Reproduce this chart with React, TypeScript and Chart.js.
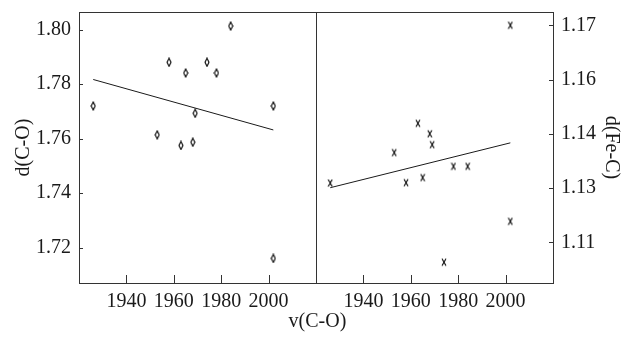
import { useEffect, useRef } from 'react';
import { Chart, registerables } from 'chart.js';

Chart.register(...registerables);

// ---- data ----
const vCO = [1926, 1953, 1958, 1963, 1965, 1968, 1969, 1974, 1978, 1984, 2002, 2002];
const dCO = [1.772, 1.7614, 1.788, 1.7575, 1.7841, 1.7587, 1.7693, 1.788, 1.7841, 1.8013, 1.772, 1.7161];
const dFeC = [1.1264, 1.1348, 1.1265, 1.1429, 1.1279, 1.14, 1.137, 1.1045, 1.131, 1.131, 1.1158, 1.17];

const fitX = [1926, 2002];
const fitCO = [1.7817, 1.7632];
const fitFeC = [1.1251, 1.1375];

const xTicks = [1940, 1960, 1980, 2000];
const yLeftTicks = [1.72, 1.74, 1.76, 1.78, 1.8];
const yRightTicks = [1.11, 1.125, 1.14, 1.155, 1.17];
const yRightLabels = ['1.11', '1.13', '1.14', '1.16', '1.17'];

const FONT = "'Liberation Serif', 'Times New Roman', serif";
const INK = '#1a1a1a';
const AXIS = '#333';

function makeMarker(kind: 'diamond' | 'x') {
  const c = document.createElement('canvas');
  c.width = 6;
  c.height = 10;
  const g = c.getContext('2d')!;
  g.strokeStyle = '#000';
  g.lineWidth = 1.1;
  g.beginPath();
  if (kind === 'diamond') {
    g.moveTo(3, 1);
    g.lineTo(5, 5);
    g.lineTo(3, 9);
    g.lineTo(1, 5);
    g.closePath();
  } else {
    g.moveTo(1, 1.5);
    g.lineTo(5, 8.5);
    g.moveTo(5, 1.5);
    g.lineTo(1, 8.5);
  }
  g.stroke();
  return c;
}

const panelFrame = {
  id: 'panelFrame',
  afterDraw(chart: any) {
    const { ctx, chartArea, scales } = chart;
    const { left, right, top, bottom } = chartArea;
    ctx.save();
    ctx.strokeStyle = AXIS;
    ctx.lineWidth = 1;
    ctx.beginPath();
    const ty = Math.round(top) + 0.5;
    ctx.moveTo(left, ty);
    ctx.lineTo(right, ty);
    const dx = Math.round(scales.x1.right) + 0.5;
    ctx.moveTo(dx, top);
    ctx.lineTo(dx, bottom);
    for (const id of ['x1', 'x2']) {
      const s = scales[id];
      s.ticks.forEach((t: any) => {
        const p = Math.round(s.getPixelForValue(t.value)) + 0.5;
        ctx.moveTo(p, bottom);
        ctx.lineTo(p, bottom - 8);
      });
    }
    scales.y1.ticks.forEach((t: any) => {
      const p = Math.round(scales.y1.getPixelForValue(t.value)) + 0.5;
      ctx.moveTo(left, p);
      ctx.lineTo(left + 4, p);
    });
    scales.y2.ticks.forEach((t: any) => {
      const p = Math.round(scales.y2.getPixelForValue(t.value)) + 0.5;
      ctx.moveTo(right, p);
      ctx.lineTo(right - 4, p);
    });
    ctx.stroke();
    ctx.restore();
  },
};

export default function App() {
  const ref = useRef<HTMLCanvasElement | null>(null);

  useEffect(() => {
    if (!ref.current) return;
    const diamond = makeMarker('diamond');
    const cross = makeMarker('x');
    const tickFont = { family: FONT, size: 20, weight: 'normal' };
    const titleFont = { family: FONT, size: 20, lineHeight: 1.2, weight: 'normal' };
    const gridOpts = { display: true, drawOnChartArea: false, drawTicks: false };
    const borderOpts = { display: true, color: AXIS, width: 1 };
    const noPad = (s: any) => {
      s.paddingTop = 0;
      s.paddingBottom = 0;
      s.paddingLeft = 0;
      s.paddingRight = 0;
    };

    const xScale = (stackWeight: number) => ({
      type: 'linear',
      position: 'bottom',
      stack: 'v',
      stackWeight,
      min: 1920,
      max: 2020,
      afterBuildTicks: (s: any) => {
        s.ticks = xTicks.map((value) => ({ value }));
      },
      afterFit: (s: any) => {
        s.height = 27;
        noPad(s);
      },
      grid: gridOpts,
      border: borderOpts,
      ticks: {
        padding: 7,
        font: tickFont,
        color: INK,
        maxRotation: 0,
        autoSkip: false,
        callback: (v: any) => String(v),
      },
    });

    const chart = new Chart(ref.current, {
      type: 'scatter',
      data: {
        datasets: [
          {
            label: 'd(C-O)',
            data: vCO.map((x, i) => ({ x, y: dCO[i] })),
            xAxisID: 'x1',
            yAxisID: 'y1',
            pointStyle: diamond as any,
            pointRadius: 4,
          },
          {
            label: 'fit d(C-O)',
            data: fitX.map((x, i) => ({ x, y: fitCO[i] })),
            xAxisID: 'x1',
            yAxisID: 'y1',
            showLine: true,
            pointRadius: 0,
            borderColor: INK,
            borderWidth: 1,
          },
          {
            label: 'd(Fe-C)',
            data: vCO.map((x, i) => ({ x, y: dFeC[i] })),
            xAxisID: 'x2',
            yAxisID: 'y2',
            pointStyle: cross as any,
            pointRadius: 4,
          },
          {
            label: 'fit d(Fe-C)',
            data: fitX.map((x, i) => ({ x, y: fitFeC[i] })),
            xAxisID: 'x2',
            yAxisID: 'y2',
            showLine: true,
            pointRadius: 0,
            borderColor: INK,
            borderWidth: 1,
          },
        ],
      },
      options: {
        responsive: false,
        maintainAspectRatio: false,
        animation: false,
        devicePixelRatio: 1,
        layout: { padding: { top: 12, left: 10, right: 0, bottom: 0 } },
        plugins: {
          legend: { display: false },
          tooltip: { enabled: false },
          title: {
            display: true,
            text: 'v(C-O)',
            position: 'bottom',
            color: INK,
            font: titleFont,
            padding: { top: 0, bottom: 7 },
          },
        },
        scales: {
          x1: xScale(1) as any,
          x2: xScale(1) as any,
          y1: {
            type: 'linear',
            position: 'left',
            min: 1.70707,
            max: 1.80645,
            afterBuildTicks: (s: any) => {
              s.ticks = yLeftTicks.map((value) => ({ value }));
            },
            afterFit: (s: any) => {
              s.width = 69;
              noPad(s);
            },
            grid: gridOpts,
            border: borderOpts,
            ticks: {
              padding: 8,
              font: tickFont,
              color: INK,
              callback: (v: any) => Number(v).toFixed(2),
            },
            title: {
              display: true,
              text: 'd(C-O)',
              color: INK,
              font: titleFont,
              padding: { top: 2, bottom: 0 },
            },
          },
          y2: {
            type: 'linear',
            position: 'right',
            min: 1.09876,
            max: 1.17367,
            afterBuildTicks: (s: any) => {
              s.ticks = yRightTicks.map((value) => ({ value }));
            },
            afterFit: (s: any) => {
              s.width = 72;
              noPad(s);
            },
            grid: gridOpts,
            border: borderOpts,
            ticks: {
              padding: 8,
              font: tickFont,
              color: INK,
              callback: (_v: any, i: number) => yRightLabels[i],
            },
            title: {
              display: true,
              text: 'd(Fe-C)',
              color: INK,
              font: titleFont,
              padding: { top: 2, bottom: 0 },
            },
          },
        },
      } as any,
      plugins: [panelFrame],
    });
    return () => chart.destroy();
  }, []);

  return (
    <div style={{ position: 'fixed', left: 0, top: 0, width: 625, height: 341, background: '#fff' }}>
      <canvas ref={ref} width={625} height={341} style={{ display: 'block' }} />
    </div>
  );
}
